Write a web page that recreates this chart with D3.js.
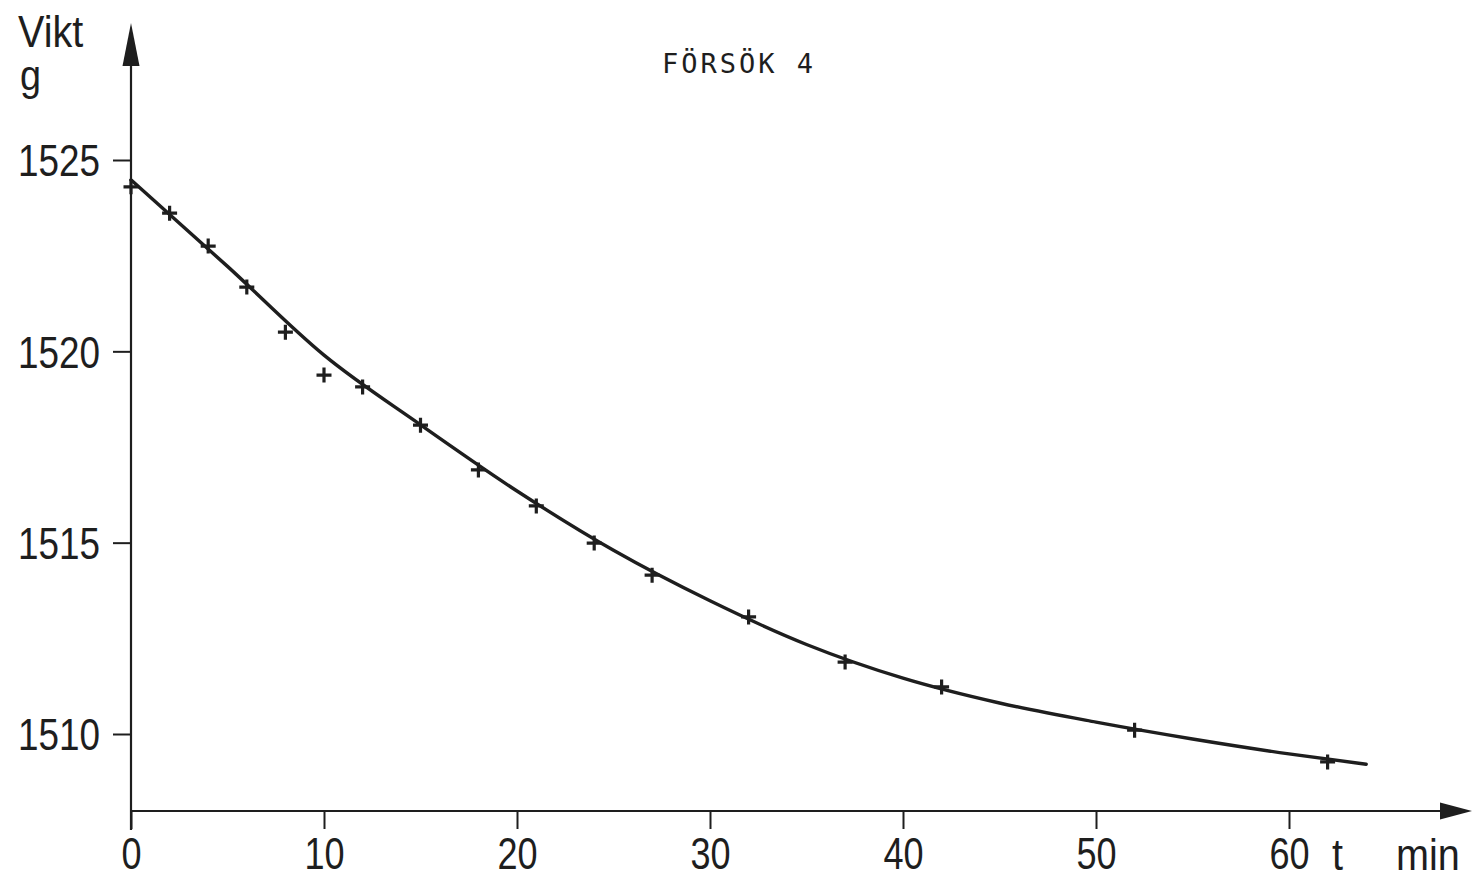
<!DOCTYPE html>
<html>
<head>
<meta charset="utf-8">
<script src="https://cdn.jsdelivr.net/npm/d3@7"></script>
<style>
  html, body { margin: 0; padding: 0; background: #ffffff; }
  svg { display: block; }
</style>
</head>
<body>
<svg id="chart" width="1473" height="880"></svg>
<script>
// ---- data ----
const timesMin = [0, 2, 4, 6, 8, 10, 12, 15, 18, 21, 24, 27, 32, 37, 42, 52, 62];
const weightsG = [1524.30, 1523.61, 1522.75, 1521.68, 1520.50, 1519.38, 1519.07, 1518.07,
                  1516.90, 1515.96, 1514.99, 1514.15, 1513.06, 1511.88, 1511.23, 1510.10, 1509.27];
const curveT = [0, 5, 10, 15, 20, 25, 30, 35, 40, 45, 50, 55, 60, 64];
const curveW = [1524.48, 1522.22, 1519.90, 1518.08, 1516.35, 1514.80, 1513.48, 1512.34,
                1511.46, 1510.81, 1510.31, 1509.87, 1509.48, 1509.21];
const xTicks = [0, 10, 20, 30, 40, 50, 60];
const yTicks = [1510, 1515, 1520, 1525];
const title = "FÖRSÖK 4";
const yLabel1 = "Vikt";
const yLabel2 = "g";
const xLabelT = "t";
const xLabelUnit = "min";

// ---- layout ----
const svg = d3.select("#chart");
const ink = "#1e1e1e";
const x = d3.scaleLinear().domain([0, 60]).range([131, 1289]);
const y = d3.scaleLinear().domain([1510, 1525]).range([734, 160]);
const axisY = 811;      // pixel position of x axis line
const axisX = x(0);     // pixel position of y axis line
const labelFont = "'Liberation Sans', Arial, sans-serif";
const squeeze = 0.82;   // narrow lettering like the stencil font

// y axis line with arrow
svg.append("line")
  .attr("x1", axisX).attr("x2", axisX)
  .attr("y1", 830).attr("y2", 50)
  .attr("stroke", ink).attr("stroke-width", 2.2);
svg.append("path")
  .attr("d", `M${axisX},23 L${axisX - 8.5},66 L${axisX + 8.5},66 Z`)
  .attr("fill", ink);

// x axis line with arrow
svg.append("line")
  .attr("x1", axisX).attr("x2", 1450)
  .attr("y1", axisY).attr("y2", axisY)
  .attr("stroke", ink).attr("stroke-width", 2.2);
svg.append("path")
  .attr("d", `M1472,${axisY} L1440,${axisY - 8.5} L1440,${axisY + 8.5} Z`)
  .attr("fill", ink);

// x axis ticks & labels
const xAxis = d3.axisBottom(x).tickValues(xTicks).tickSize(18).tickPadding(10)
  .tickFormat(d3.format("d"));
const gx = svg.append("g").attr("transform", `translate(0,${axisY})`).call(xAxis);
gx.select(".domain").remove();
gx.selectAll(".tick line").attr("stroke", ink).attr("stroke-width", 2);
gx.selectAll(".tick text")
  .attr("fill", ink)
  .attr("font-family", labelFont)
  .attr("font-size", 44)
  .attr("dy", "0.71em")
  .attr("y", 27)
  .attr("transform", `scale(${squeeze},1)`);

// y axis ticks & labels
const yAxis = d3.axisLeft(y).tickValues(yTicks).tickSize(18).tickPadding(12)
  .tickFormat(d3.format("d"));
const gy = svg.append("g").attr("transform", `translate(${axisX},0)`).call(yAxis);
gy.select(".domain").remove();
gy.selectAll(".tick line").attr("stroke", ink).attr("stroke-width", 2);
gy.selectAll(".tick text")
  .attr("fill", ink)
  .attr("font-family", labelFont)
  .attr("font-size", 45)
  .attr("x", -31 / squeeze)
  .attr("dy", "0.35em")
  .attr("transform", `scale(${squeeze},1)`);

// fitted curve
const line = d3.line()
  .x((d, i) => x(curveT[i]))
  .y((d, i) => y(curveW[i]))
  .curve(d3.curveMonotoneX);
svg.append("path")
  .datum(curveT)
  .attr("d", line)
  .attr("fill", "none")
  .attr("stroke", ink)
  .attr("stroke-width", 3.4)
  .attr("stroke-linecap", "round");

// measured points as "+" markers
const s = 7.5;
svg.append("g").selectAll("path.pt")
  .data(timesMin)
  .join("path")
  .attr("class", "pt")
  .attr("d", (d, i) => {
    const px = x(d), py = y(weightsG[i]);
    return `M${px - s},${py} L${px + s},${py} M${px},${py - s} L${px},${py + s}`;
  })
  .attr("stroke", ink)
  .attr("stroke-width", 3.2);

// title
svg.append("text")
  .attr("x", 662).attr("y", 73)
  .attr("font-family", "'DejaVu Sans Mono', monospace")
  .attr("font-size", 27)
  .attr("letter-spacing", 3)
  .attr("fill", ink)
  .text(title);

// y axis label
svg.append("text")
  .attr("transform", `translate(18,47) scale(0.9,1)`)
  .attr("font-family", labelFont)
  .attr("font-size", 44)
  .attr("fill", ink)
  .text(yLabel1);
svg.append("text")
  .attr("transform", `translate(20,90) scale(0.9,1)`)
  .attr("font-family", labelFont)
  .attr("font-size", 42)
  .attr("fill", ink)
  .text(yLabel2);

// x axis label
svg.append("text")
  .attr("transform", `translate(1332,870) scale(${squeeze + 0.08},1)`)
  .attr("font-family", labelFont)
  .attr("font-size", 44)
  .attr("fill", ink)
  .text(xLabelT);
svg.append("text")
  .attr("transform", `translate(1396,870) scale(${squeeze + 0.08},1)`)
  .attr("font-family", labelFont)
  .attr("font-size", 44)
  .attr("fill", ink)
  .text(xLabelUnit);
</script>
</body>
</html>
